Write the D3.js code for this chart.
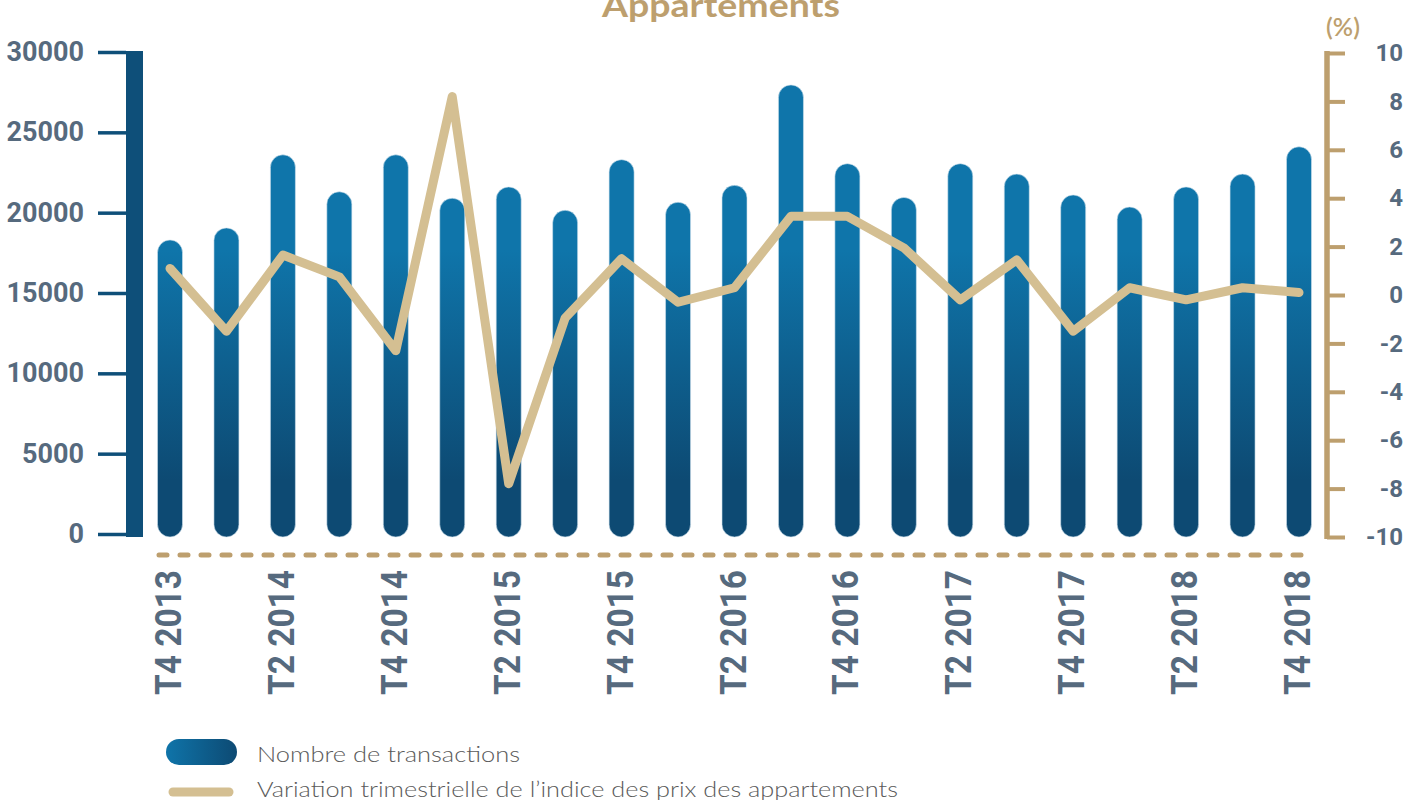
<!DOCTYPE html>
<html>
<head>
<meta charset="utf-8">
<script src="https://cdn.jsdelivr.net/npm/d3@7"></script>
<style>
  body { margin: 0; background: #fff; }
  svg { display: block; }
</style>
</head>
<body>
<svg id="chart" width="1410" height="800"></svg>
<script>
// Trimestres (T1..T4)
const quarters = [
    "T4 2013", "T1 2014", "T2 2014", "T3 2014", "T4 2014",
    "T1 2015", "T2 2015", "T3 2015", "T4 2015",
    "T1 2016", "T2 2016", "T3 2016", "T4 2016",
    "T1 2017", "T2 2017", "T3 2017", "T4 2017",
    "T1 2018", "T2 2018", "T3 2018", "T4 2018"
];

// Nombre de transactions (axe gauche)
const transactions = [
    18300, 19050, 23600, 21300, 23600,
    20900, 21600, 20150, 23300,
    20650, 21700, 27950, 23050,
    20950, 23050, 22400, 21100,
    20350, 21600, 22400, 24100
];

// Variation trimestrielle de l'indice des prix (%) (axe droit)
const priceVariation = [
    1.1, -1.5, 1.65, 0.75, -2.3,
    8.2, -7.8, -0.95, 1.5,
    -0.3, 0.3, 3.25, 3.25,
    1.95, -0.2, 1.45, -1.5,
    0.3, -0.2, 0.3, 0.1
];

const leftTicks = [0, 5000, 10000, 15000, 20000, 25000, 30000];
const rightTicks = [-10, -8, -6, -4, -2, 0, 2, 4, 6, 8, 10];

const legendLabels = ["Nombre de transactions", "Variation trimestrielle de l\u2019indice des prix des appartements"];

const labelColor = "#566a7e";
const gold = "#bd9f6e";
const lineGold = "#d4bf92";
const axisBlue = "#0e4f79";

const svg = d3.select("#chart");

// Dégradés
const defs = svg.append("defs");
const gradV = defs.append("linearGradient")
    .attr("id", "barGrad")
    .attr("gradientUnits", "userSpaceOnUse")
    .attr("x1", 0).attr("x2", 0)
    .attr("y1", 250).attr("y2", 480);
gradV.append("stop").attr("offset", "0%").attr("stop-color", "#0f75aa");
gradV.append("stop").attr("offset", "100%").attr("stop-color", "#0d4a73");

const gradH = defs.append("linearGradient")
    .attr("id", "legendGrad")
    .attr("x1", "0%").attr("x2", "100%")
    .attr("y1", "0%").attr("y2", "0%");
gradH.append("stop").attr("offset", "0%").attr("stop-color", "#0f74a9");
gradH.append("stop").attr("offset", "100%").attr("stop-color", "#0d4a73");

// Echelles
const x = d3.scalePoint().domain(quarters).range([170, 1299]);
const yL = d3.scaleLinear().domain([0, 30000]).range([534, 52]);
const yR = d3.scaleLinear().domain([-10, 10]).range([537, 53]);

const barW = 25;
const plainNum = d => String(d); // trait d'union simple pour les négatifs

// Titre (coupé en haut comme l'original)
svg.append("text")
    .attr("x", 721)
    .attr("y", 17)
    .attr("text-anchor", "middle")
    .attr("font-family", "Lato, sans-serif")
    .attr("font-weight", "bold")
    .attr("font-size", "32px")
    .attr("fill", gold)
    .attr("textLength", 238)
    .attr("lengthAdjust", "spacingAndGlyphs")
    .text("Appartements");

// Axe gauche
const gLeft = svg.append("g")
    .attr("transform", "translate(126,0)")
    .call(d3.axisLeft(yL).tickValues(leftTicks).tickSize(28).tickPadding(14).tickFormat(plainNum));
gLeft.select(".domain").remove();
gLeft.selectAll(".tick line").attr("stroke", axisBlue).attr("stroke-width", 3.5);
gLeft.selectAll(".tick text")
    .attr("fill", labelColor)
    .attr("font-family", "Roboto, sans-serif")
    .attr("font-weight", "bold")
    .attr("font-size", "27px");
svg.append("rect")
    .attr("x", 126)
    .attr("y", yL(30000) - 1)
    .attr("width", 17)
    .attr("height", yL(0) - yL(30000) + 4)
    .attr("fill", axisBlue);

// Axe droit
const gRight = svg.append("g")
    .attr("transform", "translate(1327,0)")
    .call(d3.axisRight(yR).tickValues(rightTicks).tickSize(18).tickFormat(plainNum));
gRight.select(".domain").remove();
gRight.selectAll(".tick line").attr("stroke", gold).attr("stroke-width", 4);
gRight.selectAll(".tick text")
    .attr("x", 76)
    .attr("text-anchor", "end")
    .attr("fill", labelColor)
    .attr("font-family", "Roboto, sans-serif")
    .attr("font-weight", "bold")
    .attr("font-size", "24px");
svg.append("line")
    .attr("x1", 1327).attr("x2", 1327)
    .attr("y1", yR(10) - 2).attr("y2", yR(-10) + 2)
    .attr("stroke", gold)
    .attr("stroke-width", 5.5);

svg.append("text")
    .attr("x", 1343)
    .attr("y", 36)
    .attr("text-anchor", "middle")
    .attr("font-family", "Lato, sans-serif")
    .attr("font-weight", "600")
    .attr("font-size", "25px")
    .attr("fill", gold)
    .text("(%)");

// Barres arrondies
svg.selectAll(".bar")
    .data(quarters)
    .enter()
    .append("rect")
    .attr("class", "bar")
    .attr("x", d => x(d) - barW / 2)
    .attr("y", (d, i) => yL(transactions[i]))
    .attr("width", barW)
    .attr("height", (d, i) => yL(0) + 3 - yL(transactions[i]))
    .attr("rx", barW / 2)
    .attr("fill", "url(#barGrad)")
    .attr("stroke", "#cfe0ec")
    .attr("stroke-width", 0.6);

// Ligne de base pointillée
svg.append("line")
    .attr("x1", 159).attr("x2", 1303)
    .attr("y1", 555).attr("y2", 555)
    .attr("stroke", gold)
    .attr("stroke-width", 5)
    .attr("stroke-linecap", "round")
    .attr("stroke-dasharray", "8 13");

// Courbe de variation des prix
const line = d3.line()
    .x((d, i) => x(quarters[i]))
    .y(d => yR(d));

svg.append("path")
    .datum(priceVariation)
    .attr("fill", "none")
    .attr("stroke", lineGold)
    .attr("stroke-width", 9)
    .attr("stroke-linejoin", "round")
    .attr("stroke-linecap", "round")
    .attr("d", line);

// Libellés de l'axe X (un sur deux)
svg.selectAll(".xlab")
    .data(quarters.filter((d, i) => i % 2 === 0))
    .enter()
    .append("text")
    .attr("class", "xlab")
    .attr("transform", d => `translate(${x(d) + 11},570) rotate(-90)`)
    .attr("text-anchor", "end")
    .attr("font-family", "Roboto, sans-serif")
    .attr("font-weight", "bold")
    .attr("font-size", "37px")
    .attr("fill", labelColor)
    .attr("textLength", 125)
    .attr("lengthAdjust", "spacingAndGlyphs")
    .text(d => d);

// Légende
svg.append("rect")
    .attr("x", 166).attr("y", 739)
    .attr("width", 71).attr("height", 26)
    .attr("rx", 13)
    .attr("fill", "url(#legendGrad)");
svg.append("line")
    .attr("x1", 173).attr("x2", 229)
    .attr("y1", 792).attr("y2", 792)
    .attr("stroke", lineGold)
    .attr("stroke-width", 9)
    .attr("stroke-linecap", "round");

const legendWidths = [263, 641];
svg.selectAll(".leg")
    .data(legendLabels)
    .enter()
    .append("text")
    .attr("class", "leg")
    .attr("x", 257)
    .attr("y", (d, i) => 762 + i * 35)
    .attr("font-family", "Lato, sans-serif")
    .attr("font-weight", "300")
    .attr("font-size", "22px")
    .attr("fill", "#5a5a5a")
    .attr("textLength", (d, i) => legendWidths[i])
    .attr("lengthAdjust", "spacingAndGlyphs")
    .text(d => d);
</script>
</body>
</html>
